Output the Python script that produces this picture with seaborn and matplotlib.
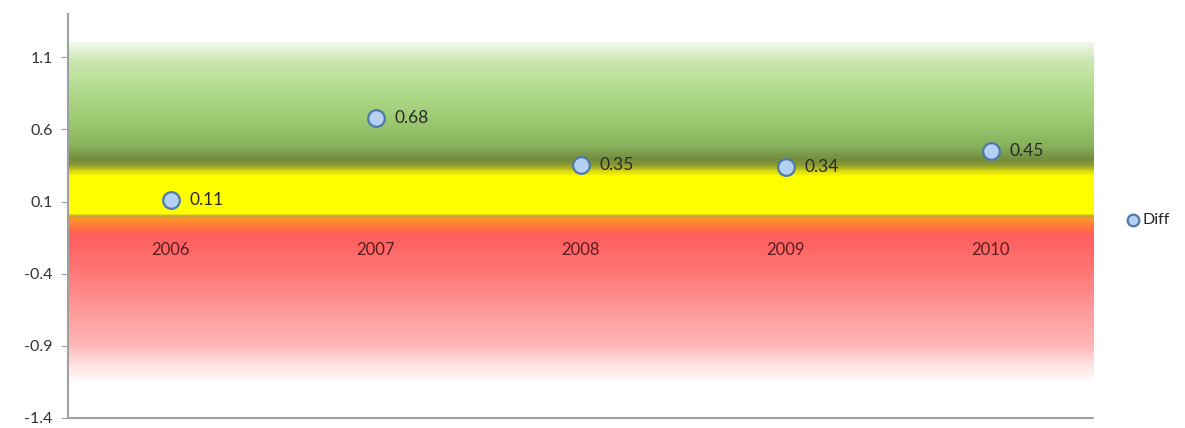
import numpy as np
import matplotlib
matplotlib.use("Agg")
import matplotlib.pyplot as plt
from matplotlib.colors import LinearSegmentedColormap
import seaborn as sns

# data
years = ["2006", "2007", "2008", "2009", "2010"]
diff = [0.11, 0.68, 0.35, 0.34, 0.45]
yticks = [1.1, 0.6, 0.1, -0.4, -0.9, -1.4]

sns.set_style("white")
plt.rcParams['font.family'] = ['Lato', 'DejaVu Sans']

fig = plt.figure(figsize=(11.85, 4.28), dpi=100)
ax = fig.add_axes([0.0574, 0.0234, 0.865, 0.944])

# background bands (green / yellow / red), value -> colour stops
bg_lo, bg_hi = -1.16, 1.2
stops = [
    (-1.16, "#ffffff"),
    (-1.12, "#fff4f0"),
    (-1.02, "#ffdcdc"),
    (-0.90, "#ffb6b6"),
    (-0.66, "#ff9a9a"),
    (-0.38, "#ff7575"),
    (-0.14, "#ff5e5e"),
    (-0.09, "#ff7040"),
    (-0.03, "#ff9428"),
    (-0.005, "#f0a020"),
    (0.0, "#c8b020"),
    (0.015, "#ffff00"),
    (0.27, "#ffff00"),
    (0.31, "#d8d810"),
    (0.35, "#8a9a30"),
    (0.39, "#728c3e"),
    (0.48, "#86b05c"),
    (0.66, "#9cca72"),
    (0.88, "#b2dc8e"),
    (1.08, "#cbe7b2"),
    (1.2, "#f2f8ec"),
]
pos = [(v - bg_lo) / (bg_hi - bg_lo) for v, c in stops]
cmap = LinearSegmentedColormap.from_list("bands", list(zip(pos, [c for v, c in stops])))
grad = np.linspace(0, 1, 400).reshape(-1, 1)
ax.imshow(grad, cmap=cmap, aspect="auto", origin="lower",
          extent=[-0.5, 4.5, bg_lo, bg_hi], zorder=0, interpolation="bilinear")

sns.stripplot(x=years, y=diff, jitter=False, size=12, color="#b4d0f2",
              edgecolor="#4d7aa8", linewidth=1.6, ax=ax, zorder=5, label="Diff",
              legend=False)

for i, v in enumerate(diff):
    ax.annotate(f"{v:.2f}", (i, v), xytext=(14, 0), textcoords="offset points",
                va="center", ha="left", fontsize=12.5, color="#2a2a2a", zorder=6)

ax.set_xlim(-0.5, 4.5)
ax.set_ylim(-1.4, 1.4)
ax.set_yticks(yticks)
ax.set_yticklabels([f"{t:.1f}" for t in yticks], fontsize=11.5, color="#333333")

# category axis crosses at zero
ax.spines["bottom"].set_position(("data", 0))
ax.spines["bottom"].set_color("#c8a040")
ax.spines["bottom"].set_linewidth(0.8)
ax.spines["top"].set_visible(False)
ax.spines["right"].set_visible(False)
ax.spines["left"].set_color("#a0a0a0")
ax.spines["left"].set_linewidth(1.5)
ax.axhline(-1.4, color="#a0a0a0", lw=1.5, zorder=4, clip_on=False)
ax.tick_params(axis="x", length=0, pad=19, labelsize=12, labelcolor="#5a1e1e")
ax.tick_params(axis="y", left=True, length=5, color="#a0a0a0", pad=6)
ax.set_xlabel("")
ax.set_ylabel("")

h, l = ax.get_legend_handles_labels()
ax.legend(h[:1], l[:1], loc="center left", bbox_to_anchor=(1.0, 0.49),
          frameon=False, fontsize=11.5, handletextpad=0.1, markerscale=0.7,
          borderaxespad=1.6, handlelength=1.0)

fig.savefig("out.png", dpi=100)
